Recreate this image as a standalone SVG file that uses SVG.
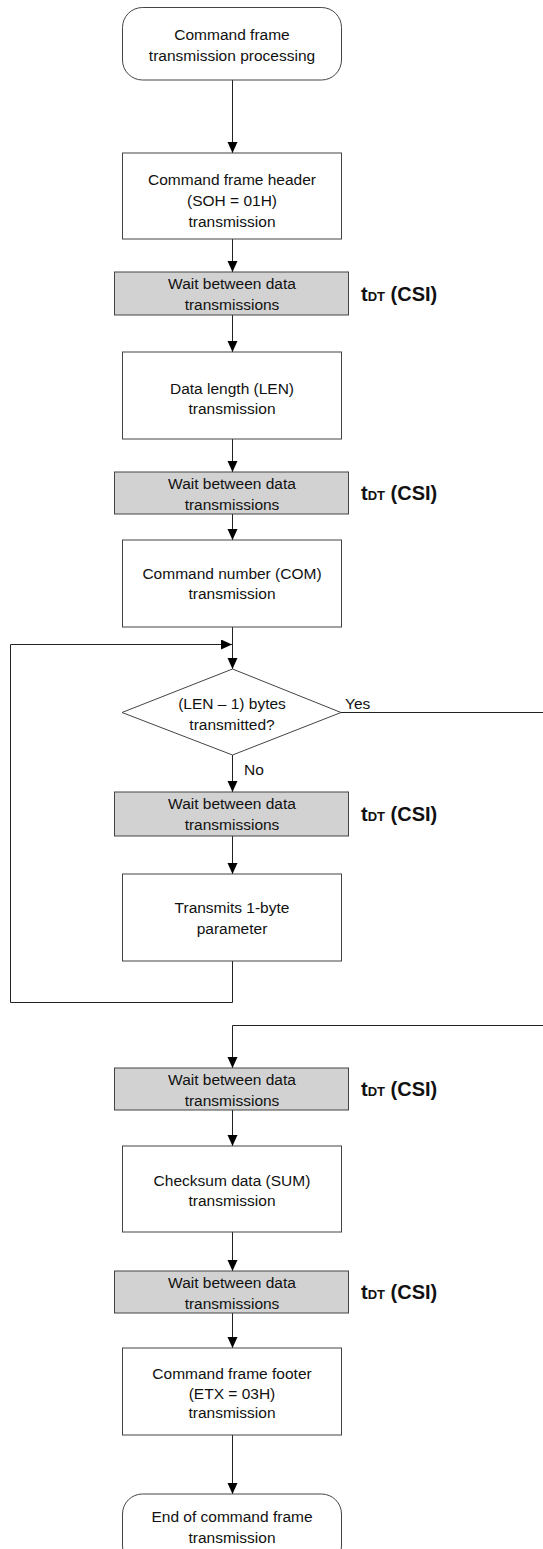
<svg xmlns="http://www.w3.org/2000/svg" width="543" height="1549" viewBox="0 0 543 1549">
<style>
.box{fill:#fff;stroke:#444;stroke-width:1}
.wait{fill:#d2d2d2;stroke:#444;stroke-width:1}
.t{font-family:"Liberation Sans",Arial,sans-serif;font-size:15.5px;fill:#111;text-anchor:middle}
.l{font-family:"Liberation Sans",Arial,sans-serif;font-size:15.5px;fill:#111}
.td{font-family:"Liberation Sans",Arial,sans-serif;font-size:20px;font-weight:bold;fill:#111}
.sub{font-size:13px}
.c{fill:none;stroke:#222;stroke-width:1}
</style>
<defs>
<marker id="ah" markerUnits="userSpaceOnUse" markerWidth="12" markerHeight="12" refX="11" refY="5" orient="auto">
<path d="M0,0 L11,5 L0,10 z" fill="#000"/>
</marker>
</defs>
<g id="connectors">
<path class="c" d="M232.5,80 V153" marker-end="url(#ah)"/>
<path class="c" d="M232.5,239 V272" marker-end="url(#ah)"/>
<path class="c" d="M232.5,315 V352" marker-end="url(#ah)"/>
<path class="c" d="M232.5,439 V472" marker-end="url(#ah)"/>
<path class="c" d="M232.5,514 V540" marker-end="url(#ah)"/>
<path class="c" d="M232.5,627 V669" marker-end="url(#ah)"/>
<path class="c" d="M232.5,755 V792" marker-end="url(#ah)"/>
<path class="c" d="M232.5,836 V874" marker-end="url(#ah)"/>
<path class="c" d="M232.5,961 V1002.5 H10.5 V644.5 H232" marker-end="url(#ah)"/>
<path class="c" d="M341,712.5 H543"/>
<path class="c" d="M543,1025.5 H232.5 V1068" marker-end="url(#ah)"/>
<path class="c" d="M232.5,1110 V1146" marker-end="url(#ah)"/>
<path class="c" d="M232.5,1232 V1271" marker-end="url(#ah)"/>
<path class="c" d="M232.5,1313 V1348" marker-end="url(#ah)"/>
<path class="c" d="M232.5,1435 V1494" marker-end="url(#ah)"/>
<text class="l" x="345" y="709">Yes</text>
<text class="l" x="244" y="775">No</text>
</g>
<g id="start">
<rect class="box" x="122.5" y="7.5" width="219" height="72.5" rx="20"/>
<text class="t" x="232" y="40">Command frame</text>
<text class="t" x="232" y="61">transmission processing</text>
</g>
<g id="header">
<rect class="box" x="122.5" y="153" width="219" height="86"/>
<text class="t" x="232" y="185">Command frame header</text>
<text class="t" x="232" y="206">(SOH = 01H)</text>
<text class="t" x="232" y="227">transmission</text>
</g>
<g id="wait1">
<rect class="wait" x="114.5" y="272" width="234" height="43"/>
<text class="t" x="232" y="289">Wait between data</text>
<text class="t" x="232" y="310">transmissions</text>
<text class="td" x="361" y="301">t<tspan class="sub">DT</tspan> (CSI)</text>
</g>
<g id="len">
<rect class="box" x="122.5" y="352" width="219" height="87"/>
<text class="t" x="232" y="394">Data length (LEN)</text>
<text class="t" x="232" y="414">transmission</text>
</g>
<g id="wait2">
<rect class="wait" x="114.5" y="472" width="234" height="42"/>
<text class="t" x="232" y="489">Wait between data</text>
<text class="t" x="232" y="510">transmissions</text>
<text class="td" x="361" y="500">t<tspan class="sub">DT</tspan> (CSI)</text>
</g>
<g id="com">
<rect class="box" x="122.5" y="540" width="219" height="87"/>
<text class="t" x="232" y="579">Command number (COM)</text>
<text class="t" x="232" y="599">transmission</text>
</g>
<g id="decision">
<polygon class="box" points="232.5,669 341,712.5 232.5,755 122,712.5"/>
<text class="t" x="232" y="709">(LEN – 1) bytes</text>
<text class="t" x="232" y="730">transmitted?</text>
</g>
<g id="wait3">
<rect class="wait" x="114.5" y="792" width="234" height="44"/>
<text class="t" x="232" y="809">Wait between data</text>
<text class="t" x="232" y="830">transmissions</text>
<text class="td" x="361" y="821">t<tspan class="sub">DT</tspan> (CSI)</text>
</g>
<g id="param">
<rect class="box" x="122.5" y="874" width="219" height="87"/>
<text class="t" x="232" y="913">Transmits 1-byte</text>
<text class="t" x="232" y="934">parameter</text>
</g>
<g id="wait4">
<rect class="wait" x="114.5" y="1068" width="234" height="42"/>
<text class="t" x="232" y="1085">Wait between data</text>
<text class="t" x="232" y="1106">transmissions</text>
<text class="td" x="361" y="1096">t<tspan class="sub">DT</tspan> (CSI)</text>
</g>
<g id="sum">
<rect class="box" x="122.5" y="1146" width="219" height="86"/>
<text class="t" x="232" y="1186">Checksum data (SUM)</text>
<text class="t" x="232" y="1206">transmission</text>
</g>
<g id="wait5">
<rect class="wait" x="114.5" y="1271" width="234" height="42"/>
<text class="t" x="232" y="1288">Wait between data</text>
<text class="t" x="232" y="1309">transmissions</text>
<text class="td" x="361" y="1299">t<tspan class="sub">DT</tspan> (CSI)</text>
</g>
<g id="footer">
<rect class="box" x="122.5" y="1348" width="219" height="87"/>
<text class="t" x="232" y="1379">Command frame footer</text>
<text class="t" x="232" y="1399">(ETX = 03H)</text>
<text class="t" x="232" y="1418">transmission</text>
</g>
<g id="end">
<rect class="box" x="122.5" y="1494" width="219" height="72" rx="20"/>
<text class="t" x="232" y="1522">End of command frame</text>
<text class="t" x="232" y="1543">transmission</text>
</g>
</svg>
